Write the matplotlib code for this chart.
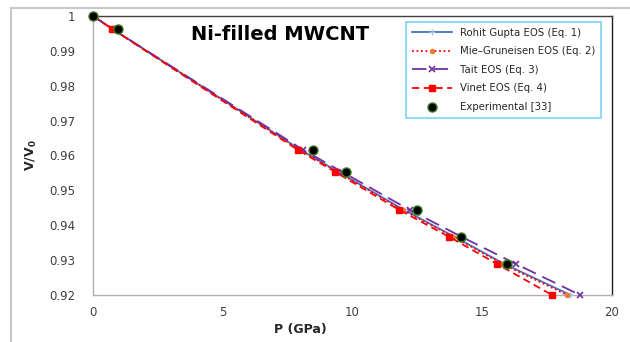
import matplotlib
matplotlib.use("Agg")
import matplotlib.pyplot as plt
from matplotlib.patches import Rectangle

V_model = [1.0, 0.9963, 0.9616, 0.9553, 0.9444, 0.9367, 0.9289, 0.92]
P_rohit = [0, 0.75, 8.00, 9.45, 11.98, 13.93, 15.85, 18.40]
P_mie = [0, 0.75, 7.98, 9.42, 11.93, 13.88, 15.78, 18.27]
P_tait = [0, 0.74, 8.10, 9.60, 12.20, 14.20, 16.30, 18.77]
P_vinet = [0, 0.73, 7.90, 9.33, 11.80, 13.72, 15.57, 17.69]

P_exp = [0, 0.96, 8.48, 9.75, 12.49, 14.18, 15.95]
V_exp = [1.0, 0.9963, 0.9616, 0.9553, 0.9444, 0.9367, 0.9289]

xticks = [0, 5, 10, 15, 20]
yticks = [0.92, 0.93, 0.94, 0.95, 0.96, 0.97, 0.98, 0.99, 1.0]
ytick_labels = ["0.92", "0.93", "0.94", "0.95", "0.96", "0.97", "0.98", "0.99", "1"]

plt.rcParams['font.family'] = ['DejaVu Sans']
W, H = 630, 342
fig = plt.figure(figsize=(W/100, H/100), dpi=100)
fig.patch.set_facecolor('white')

# outer chart-area border (partially visible)
fig.patches.append(Rectangle((11/W, -0.1), 1.2, 1 - 8/H + 0.1, transform=fig.transFigure,
                             fill=False, edgecolor='#c8c8c8', linewidth=1.5))

ax = fig.add_axes([93/W, 1 - 295/H, (612-93)/W, (295-16)/H])
ax.set_xlim(0, 20)
ax.set_ylim(0.92, 1.0)

ax.plot(P_rohit, V_model, color='#4472C4', lw=1.3, marker='+', ms=5, mec='#9DC3E6',
        mew=1.0, label='Rohit Gupta EOS (Eq. 1)', clip_on=False, zorder=3)
ax.plot(P_mie, V_model, color='#FF0000', lw=1.3, ls=(0, (1, 1.5)), marker='o', ms=3,
        mfc='#ED7D31', mec='#ED7D31', label='Mie\u2013Gruneisen EOS (Eq. 2)', clip_on=False, zorder=3)
ax.plot(P_tait, V_model, color='#7030A0', lw=1.3, ls=(0, (8, 4)), marker='x', ms=4,
        mew=1.2, label='Tait EOS (Eq. 3)', clip_on=False, zorder=3)
ax.plot(P_vinet, V_model, color='#FF0000', lw=1.3, ls=(0, (4, 2.5)), marker='s', ms=4.5,
        label='Vinet EOS (Eq. 4)', clip_on=False, zorder=4)
ax.plot(P_exp, V_exp, ls='none', marker='o', ms=6.5, mfc='black', mec='#3a7d1e', mew=1.0,
        label='Experimental [33]', clip_on=False, zorder=5)

ax.set_xticks(xticks)
ax.set_yticks(yticks)
ax.set_yticklabels(ytick_labels)
ax.tick_params(length=0, labelsize=8.5, colors='#404040')
ax.tick_params(axis='y', pad=13)
ax.tick_params(axis='x', pad=8)

for s in ['left', 'bottom']:
    ax.spines[s].set_color('#b0b0b0')
    ax.spines[s].set_linewidth(1.0)
ax.spines['top'].set_color('#404040')
ax.spines['right'].set_color('#202020')
for s in ['top', 'right']:
    ax.spines[s].set_linewidth(1.0)

ax.set_xlabel('P (GPa)', fontsize=9, fontweight='bold', color='#262626')
ax.xaxis.set_label_coords((300-93)/(612-93), -(323-295)/(295-16))
ax.set_ylabel('V/V$_\\mathregular{0}$', fontsize=9, fontweight='bold', color='#262626')
ax.yaxis.set_label_coords(-(93-39)/(612-93), 0.5)

fig.text(280/W, 1 - 35/H, 'Ni-filled MWCNT', ha='center', va='center', fontsize=14,
         fontweight='bold', color='black')

leg = ax.legend(loc='upper left', bbox_to_anchor=((406-93)/(612-93), 1 - (22-16)/(295-16)),
                fontsize=7.3, frameon=True, fancybox=False, borderpad=0.55, labelspacing=0.85,
                handlelength=4.0, handletextpad=0.8, borderaxespad=0)
leg.get_frame().set_edgecolor('#5BC8F0')
leg.get_frame().set_linewidth(1.2)
for t in leg.get_texts():
    t.set_color('#262626')

fig.savefig('out.png', dpi=100, facecolor='white')
